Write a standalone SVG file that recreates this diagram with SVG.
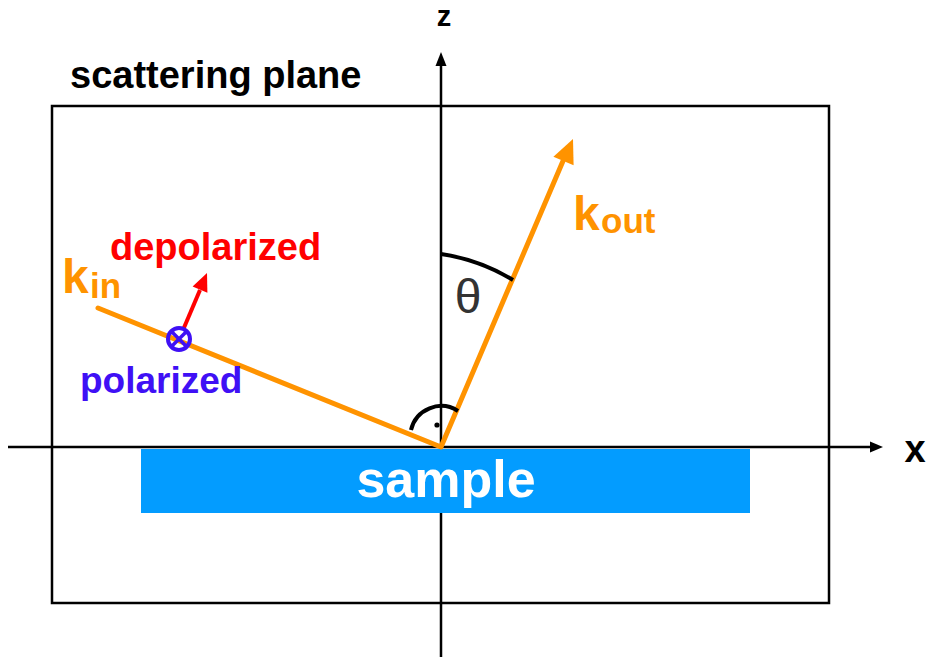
<svg xmlns="http://www.w3.org/2000/svg" width="929" height="660" viewBox="0 0 929 660">
<style>
.lbl{font-family:"Liberation Sans",Arial,sans-serif;font-weight:bold}
.ax{stroke:#000;stroke-width:2.5;fill:none}
.or{stroke:#FF9300;stroke-width:5;fill:none;stroke-linecap:round;stroke-linejoin:round}
.orf{fill:#FF9300}
</style>
<rect width="929" height="660" fill="#fff"/>
<g id="frame">
<rect x="52" y="106" width="777" height="497" fill="none" stroke="#000" stroke-width="2.5"/>
<text class="lbl" x="70" y="88" font-size="38" fill="#000">scattering plane</text>
</g>
<g id="axes">
<line class="ax" x1="8" y1="447" x2="872" y2="447"/>
<polygon points="883,447 870,441.5 870,452.5" fill="#000"/>
<line class="ax" x1="441" y1="657" x2="441" y2="64"/>
<polygon points="441,52 435.5,66 446.5,66" fill="#000"/>
<text class="lbl" x="915" y="462" font-size="38" text-anchor="middle" fill="#000">x</text>
<text class="lbl" x="444" y="26" font-size="29" text-anchor="middle" fill="#000">z</text>
</g>
<g id="sample">
<rect x="141" y="449" width="609" height="64" fill="#039CFF"/>
<text class="lbl" x="446" y="497" font-size="52" text-anchor="middle" fill="#fff">sample</text>
</g>
<g id="connectors">
<polyline class="or" points="98,308 441,447 563,161"/>
<polygon class="orf" points="573,139 553.4,156.7 573.6,165.3"/>
<path d="M441 254 A193 193 0 0 1 513 280" stroke="#000" stroke-width="4" fill="none"/>
<path d="M411 430 A31 31 0 0 1 458 411" stroke="#000" stroke-width="4" fill="none"/>
<circle cx="437" cy="425" r="2.6" fill="#000"/>
<line x1="183" y1="330" x2="200" y2="290" stroke="#FF0000" stroke-width="4"/>
<polygon points="207,273 192.6,286.5 207.4,292.7" fill="#FF0000"/>
</g>
<g id="kin">
<text class="lbl" x="62" y="293" font-size="48" fill="#FF9300">k</text>
<text class="lbl" x="90" y="298" font-size="35" fill="#FF9300">in</text>
</g>
<g id="kout">
<text class="lbl" x="573" y="230" font-size="48" fill="#FF9300">k</text>
<text class="lbl" x="601" y="233" font-size="35" fill="#FF9300">out</text>
</g>
<g id="theta">
<text x="468" y="313" font-family="'Liberation Sans',Arial,sans-serif" font-size="48" text-anchor="middle" fill="#333">θ</text>
</g>
<g id="polarization">
<circle cx="179" cy="339" r="11" fill="none" stroke="#3F10F5" stroke-width="4"/>
<line x1="171.5" y1="331.5" x2="186.5" y2="346.5" stroke="#3F10F5" stroke-width="3.5"/>
<line x1="186.5" y1="331.5" x2="171.5" y2="346.5" stroke="#3F10F5" stroke-width="3.5"/>
<text class="lbl" x="110" y="260" font-size="38" fill="#FF0000">depolarized</text>
<text class="lbl" x="80" y="393" font-size="37" fill="#3F10F5">polarized</text>
</g>
</svg>
